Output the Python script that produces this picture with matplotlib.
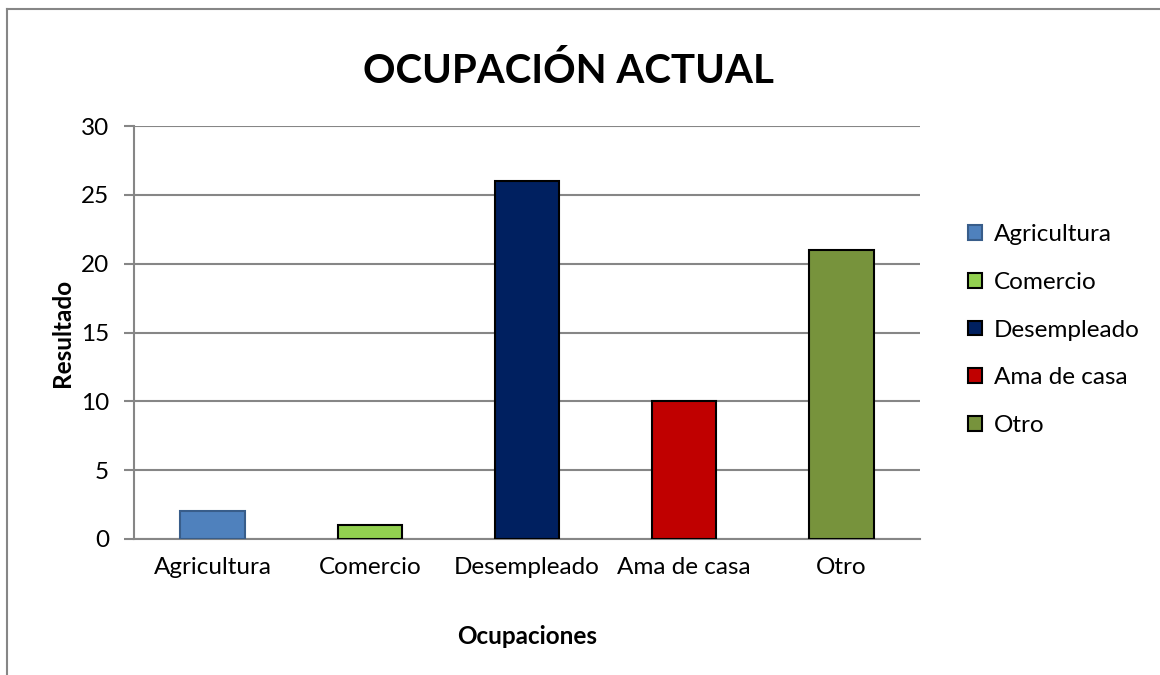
import matplotlib.pyplot as plt
from matplotlib.lines import Line2D
from matplotlib.patches import Patch

plt.rcParams['font.family'] = ['Lato', 'DejaVu Sans']

categorias = ["Agricultura", "Comercio", "Desempleado", "Ama de casa", "Otro"]
valores = [2, 1, 26, 10, 21]
colores = ["#4F81BD", "#92D050", "#002060", "#C00000", "#77933C"]
bordes = ["#385D8A", "black", "black", "black", "black"]
yticks = [0, 5, 10, 15, 20, 25, 30]

fig = plt.figure(figsize=(11.6, 6.75), dpi=100)
ax = fig.add_axes([0.1155, 0.2015, 0.6775, 0.6118])

x = range(len(categorias))
ax.bar(x, valores, width=0.41, color=colores, edgecolor=bordes, linewidth=1.5, zorder=3)

ax.set_xlim(-0.5, len(categorias) - 0.5)
ax.set_ylim(0, 30)
ax.set_yticks(yticks)
ax.set_xticks(list(x))
ax.set_xticklabels(categorias, fontsize=17.5)
ax.tick_params(axis='y', labelsize=17.5, length=7, color='#868686', width=1.5, pad=11)
ax.tick_params(axis='x', length=0, pad=13)
ax.grid(axis='y', color='#868686', linewidth=1.5, zorder=0)

for lado in ['top', 'right']:
    ax.spines[lado].set_visible(False)
for lado in ['left', 'bottom']:
    ax.spines[lado].set_color('#868686')
    ax.spines[lado].set_linewidth(1.5)

ax.set_ylabel("Resultado", fontsize=17.5, fontweight='bold', labelpad=5)
ax.set_xlabel("Ocupaciones", fontsize=17.5, fontweight='bold', labelpad=34)

fig.text(0.49, 0.895, "OCUPACIÓN ACTUAL", fontsize=29, fontweight='bold',
         ha='center', va='center')

handles = [Patch(facecolor=c, edgecolor=b, linewidth=1.5) for c, b in zip(colores, bordes)]
fig.legend(handles, categorias, loc='center left', bbox_to_anchor=(0.816, 0.511),
           frameon=False, fontsize=17.5, handlelength=0.55, handleheight=0.55,
           handletextpad=0.5, labelspacing=1.1)

# borde exterior del gráfico
fig.add_artist(Line2D([0.006, 0.006], [0, 0.987], color='#868686', linewidth=1.5))
fig.add_artist(Line2D([0.006, 1], [0.987, 0.987], color='#868686', linewidth=1.5))

fig.savefig("out.png", dpi=100)
